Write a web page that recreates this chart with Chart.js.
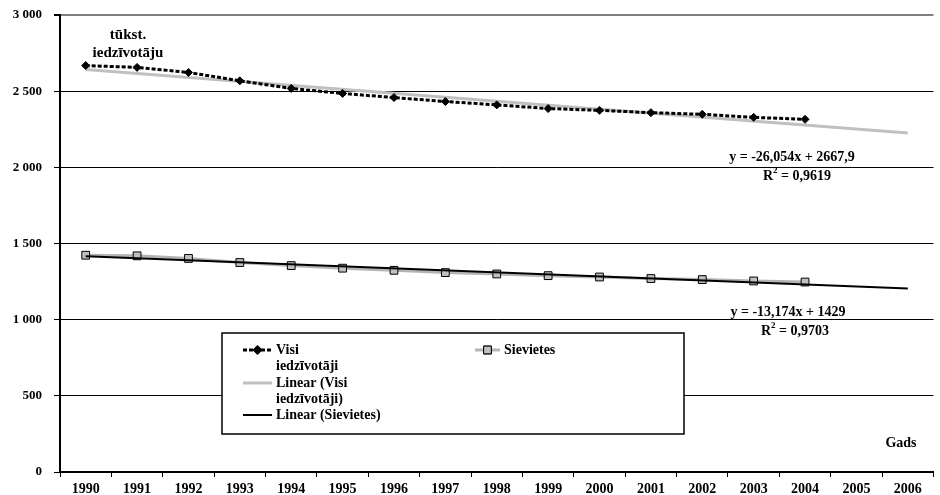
<!DOCTYPE html>
<html>
<head>
<meta charset="utf-8">
<script src="https://cdn.jsdelivr.net/npm/chart.js@4.4.1/dist/chart.umd.min.js"></script>
<style>
  html, body { margin: 0; padding: 0; background: #fff; overflow: hidden; }
  #wrap { width: 940px; height: 495px; }
</style>
</head>
<body>
<div id="wrap"><canvas id="chart" width="940" height="495"></canvas></div>
<script>
// Data (thousands of inhabitants)
const years = ['1990', '1991', '1992', '1993', '1994', '1995', '1996', '1997', '1998',
               '1999', '2000', '2001', '2002', '2003', '2004', '2005', '2006'];
const visi = [2668, 2656, 2623, 2568, 2518, 2485, 2458, 2432, 2410, 2386, 2374, 2359, 2348, 2328, 2315];
const sievietes = [1423, 1419, 1402, 1375, 1355, 1338, 1324, 1309, 1300, 1289, 1280, 1270, 1263, 1254, 1247];
// trend lines, end points only (1990 and 2006)
const trendVisi = [2642, null, null, null, null, null, null, null, null, null, null, null, null, null, null, null, 2225];
const trendSiev = [1416, null, null, null, null, null, null, null, null, null, null, null, null, null, null, null, 1205];
const yTicks = [0, 500, 1000, 1500, 2000, 2500, 3000];

const FONT = '"Liberation Serif", "Times New Roman", serif';

// R² with a raised small 2, centred on cx
function drawR2(c, text, cx, cy) {
    const big = 'bold 14px ' + FONT, small = 'bold 9px ' + FONT;
    c.font = big;
    const wR = c.measureText('R').width, wT = c.measureText(text).width;
    c.font = small;
    const w2 = c.measureText('2').width;
    let x = cx - (wR + w2 + wT) / 2;
    c.textAlign = 'left';
    c.font = big;
    c.fillText('R', x, cy);
    c.font = small;
    c.fillText('2', x + wR, cy - 5);
    c.font = big;
    c.fillText(text, x + wR + w2, cy);
    c.textAlign = 'center';
}

// Annotations and the boxed legend
const overlay = {
    id: 'overlay',
    afterDraw(chart) {
        const c = chart.ctx;
        c.save();
        c.fillStyle = '#000';
        c.textBaseline = 'middle';
        c.textAlign = 'center';

        c.font = 'bold 15px ' + FONT;
        c.fillText('tūkst.', 128, 35);
        c.fillText('iedzīvotāju', 128, 53);

        c.font = 'bold 14px ' + FONT;
        c.fillText('Gads', 901, 443);

        c.fillText('y = -26,054x + 2667,9', 792, 157);
        drawR2(c, ' = 0,9619', 797, 176);
        c.font = 'bold 14px ' + FONT;
        c.fillText('y = -13,174x + 1429', 788, 312);
        drawR2(c, ' = 0,9703', 795, 331);

        // legend box
        c.fillStyle = '#fff';
        c.fillRect(222, 333, 462, 101);
        c.strokeStyle = '#000';
        c.lineWidth = 1.5;
        c.strokeRect(222, 333, 462, 101);

        const ds = chart.data.datasets;
        const sample = (d, x0, x1, y, marker) => {
            c.save();
            c.strokeStyle = d.borderColor;
            c.lineWidth = d.borderWidth;
            c.setLineDash(d.borderDash || []);
            c.beginPath();
            c.moveTo(x0, y);
            c.lineTo(x1, y);
            c.stroke();
            c.restore();
            if (marker) {
                Chart.helpers.drawPoint(c, {
                    pointStyle: d.pointStyle,
                    radius: d.pointRadius,
                    rotation: 0,
                    borderWidth: d.pointBorderWidth
                }, (x0 + x1) / 2, y);
                c.fillStyle = d.pointBackgroundColor;
                c.strokeStyle = d.pointBorderColor;
                c.lineWidth = d.pointBorderWidth;
                c.fill();
                c.stroke();
            }
        };
        sample(ds[0], 243, 272, 350, true);
        sample(ds[1], 243, 272, 383, false);
        sample(ds[3], 243, 272, 415, false);
        sample(ds[2], 475, 500, 350, true);

        c.fillStyle = '#000';
        c.textAlign = 'left';
        c.font = 'bold 14px ' + FONT;
        c.fillText('Visi', 276, 350);
        c.fillText('iedzīvotāji', 276, 366);
        c.fillText('Linear (Visi', 276, 383);
        c.fillText('iedzīvotāji)', 276, 399);
        c.fillText('Linear (Sievietes)', 276, 415);
        c.fillText('Sievietes', 504, 350);
        c.restore();
    }
};

new Chart(document.getElementById('chart'), {
    type: 'line',
    data: {
        labels: years,
        datasets: [
            {
                label: 'Visi iedzīvotāji',
                data: visi,
                borderColor: '#000',
                borderWidth: 3,
                borderDash: [4, 2],
                pointStyle: 'rectRot',
                pointRadius: 4,
                pointBackgroundColor: '#000',
                pointBorderColor: '#000',
                pointBorderWidth: 1,
                order: 1
            },
            {
                label: 'Linear (Visi iedzīvotāji)',
                data: trendVisi,
                borderColor: '#c0c0c0',
                borderWidth: 3,
                pointRadius: 0,
                spanGaps: true,
                order: 2
            },
            {
                label: 'Sievietes',
                data: sievietes,
                borderColor: '#b4b4b4',
                borderWidth: 3,
                pointStyle: 'rect',
                pointRadius: 5.5,
                pointBackgroundColor: '#c0c0c0',
                pointBorderColor: '#000',
                pointBorderWidth: 1,
                order: 4
            },
            {
                label: 'Linear (Sievietes)',
                data: trendSiev,
                borderColor: '#000',
                borderWidth: 2,
                pointRadius: 0,
                spanGaps: true,
                order: 3
            }
        ]
    },
    options: {
        responsive: false,
        animation: false,
        layout: { padding: { top: 15, right: 0, left: 0, bottom: 0 } },
        elements: { line: { tension: 0 } },
        plugins: {
            legend: { display: false },
            tooltip: { enabled: false }
        },
        scales: {
            x: {
                offset: true,
                afterFit: s => { s.height = 23; },
                grid: {
                    offset: true,
                    drawOnChartArea: false,
                    tickLength: 5,
                    tickColor: '#000',
                    tickWidth: 1
                },
                border: { color: '#000', width: 2 },
                ticks: {
                    color: '#000',
                    padding: 4,
                    maxRotation: 0,
                    autoSkip: false,
                    font: { family: FONT, size: 14, weight: 'bold' }
                }
            },
            y: {
                min: 0,
                max: 3000,
                afterFit: s => { s.width = 60; s.paddingTop = 0; s.paddingBottom = 0; },
                afterBuildTicks: s => { s.ticks = yTicks.map(v => ({ value: v })); },
                grid: {
                    color: ctx => (ctx.tick && ctx.tick.value === 3000) ? '#808080' : '#000',
                    lineWidth: ctx => (ctx.tick && ctx.tick.value === 3000) ? 2 : 1,
                    tickLength: 6,
                    tickColor: '#000'
                },
                border: { color: '#000', width: 2 },
                ticks: {
                    color: '#000',
                    padding: 12,
                    font: { family: FONT, size: 13, weight: 'bold' },
                    callback: v => String(v).replace(/\B(?=(\d{3})+(?!\d))/g, ' ')
                }
            }
        }
    },
    plugins: [overlay]
});
</script>
</body>
</html>
